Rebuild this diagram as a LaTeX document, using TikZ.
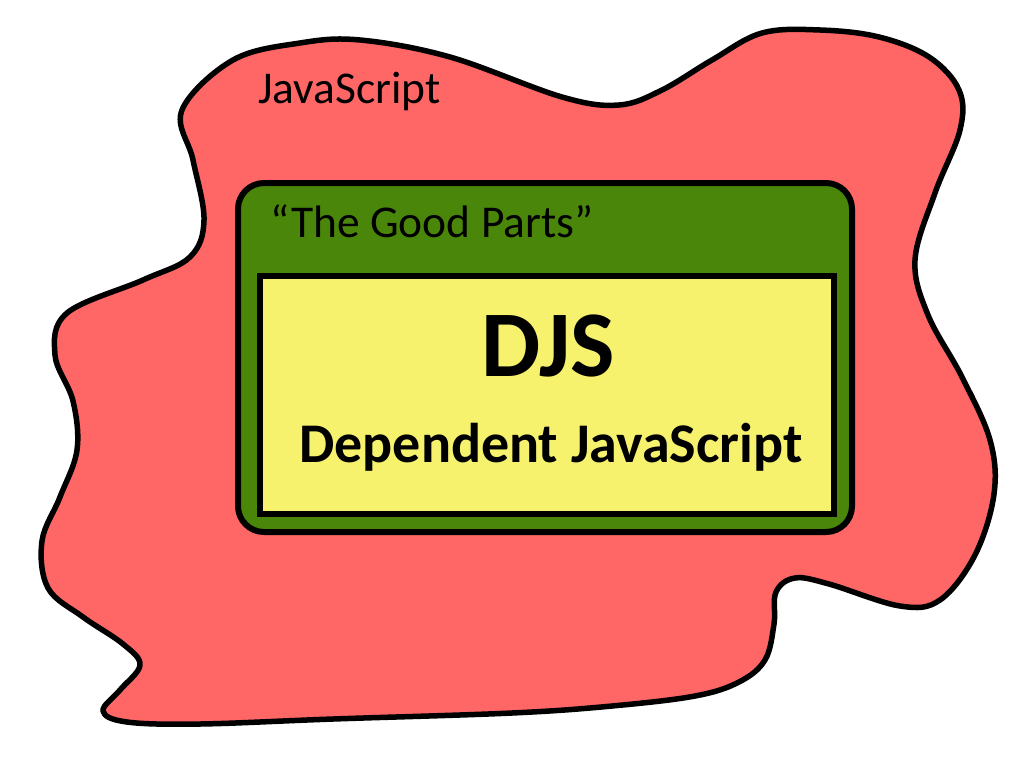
\documentclass[tikz,border=0pt]{standalone}
\usepackage{fontspec}
\setmainfont{Carlito}
\definecolor{blobred}{HTML}{FF6666}
\definecolor{goodgreen}{HTML}{4A860A}
\definecolor{djsyellow}{HTML}{F7F26E}
\begin{document}
\begin{tikzpicture}[x=1pt,y=-1pt,
  blob/.style={draw=black,line width=5.5pt,fill=blobred,line join=round},
  goodbox/.style={draw=black,line width=6pt,fill=goodgreen,rounded corners=26pt},
  djsbox/.style={draw=black,line width=6pt,fill=djsyellow},
  lbl/.style={inner sep=0pt,anchor=base west,font=\fontsize{45.5}{48}\selectfont},
  bigbold/.style={inner sep=0pt,anchor=base,font=\fontsize{94}{96}\selectfont\bfseries},
  subbold/.style={inner sep=0pt,anchor=base,font=\fontsize{56}{60}\selectfont\bfseries}]
\useasboundingbox (0,0) rectangle (1024,768);
\draw[blob] plot[smooth cycle,tension=0.6] coordinates {
 (182,110) (233,60) (300,43) (360,40) (450,57) (562,97) (619,105) (662,90)
 (712,60) (762,33) (820,30) (879,37) (929,57) (959,90) (960,130) (935,193)
 (915,260) (928,315) (962,377) (990,440) (994,494) (975,555) (940,600) (900,606)
 (829,584) (795,578) (776,592) (774,624) (765,660) (739,682) (695,696) (612,706)
 (512,713) (333,719) (200,724) (127,722) (103,711) (120,690) (140,665) (123,644)
 (83,617) (48,588) (42,541) (60,497) (77,450) (73,401) (55,355) (67,313)
 (143,280) (190,257) (204,220) (193,160)};
\node[lbl] (js) at (258,103) {JavaScript};
\draw[goodbox] (238,183) rectangle (852,532);
\node[lbl] (good) at (270,237) {“The Good Parts”};
\draw[djsbox] (260,276) rectangle (834,514);
\node[bigbold] (djs) at (548,376) {DJS};
\node[subbold] (dep) at (551,462) {Dependent JavaScript};
\end{tikzpicture}
\end{document}
